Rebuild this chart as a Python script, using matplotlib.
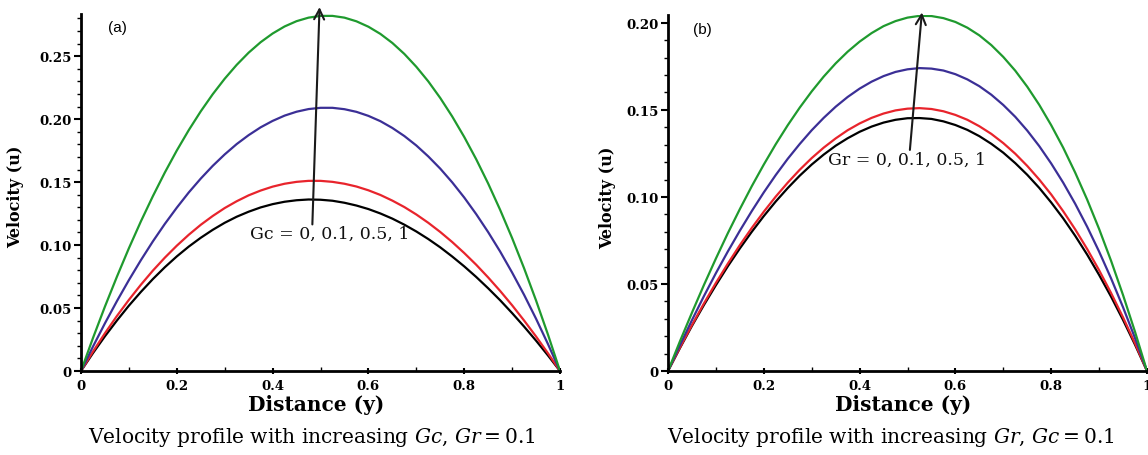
import matplotlib
matplotlib.use("Agg")
import matplotlib.pyplot as plt
from matplotlib.ticker import MultipleLocator

plt.rcParams['font.family'] = ['DejaVu Serif']
plt.rcParams['mathtext.fontset'] = 'dejavuserif'

# distance across the channel
y_pos = [0.0, 0.025, 0.05, 0.075, 0.1, 0.125, 0.15, 0.175, 0.2, 0.225, 0.25,
         0.275, 0.3, 0.325, 0.35, 0.375, 0.4, 0.425, 0.45, 0.475, 0.5,
         0.525, 0.55, 0.575, 0.6, 0.625, 0.65, 0.675, 0.7, 0.725, 0.75,
         0.775, 0.8, 0.825, 0.85, 0.875, 0.9, 0.925, 0.95, 0.975, 1.0]

# (a) increasing Gc, Gr = 0.1
a_gc0 = [0, .0142, .0276, .0401, .0519, .0628, .0730, .0824, .0910, .0988, .1058,
         .1121, .1177, .1225, .1265, .1299, .1325, .1344, .1356, .1362, .1360,
         .1352, .1336, .1314, .1286, .1251, .1210, .1162, .1108, .1048, .0982,
         .0909, .0831, .0747, .0657, .0562, .0460, .0353, .0241, .0123, 0]
a_gc01 = [0, .0154, .0300, .0437, .0565, .0685, .0797, .0900, .0995, .1082, .1161,
          .1231, .1294, .1348, .1395, .1433, .1464, .1487, .1502, .1510, .1510,
          .1502, .1487, .1465, .1435, .1398, .1353, .1302, .1243, .1177, .1104,
          .1024, .0937, .0844, .0743, .0636, .0522, .0401, .0274, .0140, 0]
a_gc05 = [0, .0194, .0379, .0555, .0722, .0880, .1029, .1168, .1297, .1418, .1528,
          .1629, .1720, .1802, .1873, .1935, .1986, .2028, .2059, .2080, .2090,
          .2090, .2079, .2058, .2026, .1984, .1930, .1866, .1791, .1704, .1607,
          .1498, .1378, .1246, .1103, .0949, .0782, .0605, .0415, .0213, 0]
a_gc1 = [0, .0262, .0512, .0749, .0975, .1188, .1388, .1576, .1751, .1913, .2062,
         .2198, .2321, .2431, .2528, .2611, .2680, .2736, .2778, .2806, .2820,
         .2820, .2806, .2777, .2734, .2677, .2605, .2518, .2416, .2300, .2168,
         .2021, .1859, .1682, .1489, .1280, .1056, .0816, .0560, .0288, 0]

# (b) increasing Gr, Gc = 0.1
b_gr0 = [0, .0132, .0259, .0379, .0493, .0602, .0704, .0800, .0890, .0974, .1051,
         .1122, .1186, .1243, .1294, .1337, .1374, .1404, .1427, .1443, .1452,
         .1453, .1448, .1434, .1413, .1385, .1349, .1305, .1254, .1194, .1127,
         .1052, .0968, .0877, .0777, .0669, .0552, .0427, .0293, .0151, 0]
b_gr01 = [0, .0135, .0264, .0388, .0506, .0617, .0723, .0822, .0915, .1002, .1082,
          .1156, .1223, .1283, .1336, .1383, .1422, .1454, .1479, .1497, .1507,
          .1510, .1505, .1492, .1471, .1443, .1406, .1362, .1309, .1248, .1178,
          .1100, .1014, .0918, .0814, .0701, .0579, .0448, .0308, .0159, 0]
b_gr05 = [0, .0149, .0292, .0430, .0562, .0687, .0806, .0919, .1026, .1126, .1219,
          .1304, .1383, .1454, .1518, .1574, .1622, .1662, .1694, .1718, .1733,
          .1740, .1737, .1726, .1705, .1675, .1636, .1587, .1528, .1460, .1381,
          .1292, .1192, .1082, .0961, .0829, .0686, .0532, .0366, .0189, 0]
b_gr1 = [0, .0171, .0335, .0494, .0646, .0792, .0930, .1062, .1186, .1303, .1412,
         .1513, .1606, .1691, .1767, .1834, .1892, .1941, .1981, .2010, .2030,
         .2040, .2039, .2027, .2005, .1972, .1928, .1872, .1804, .1725, .1633,
         .1529, .1412, .1283, .1140, .0985, .0816, .0633, .0436, .0225, 0]

x_ticks = [0, 0.2, 0.4, 0.6, 0.8, 1]
x_labels = ['0', '0.2', '0.4', '0.6', '0.8', '1']
a_yticks = [0, 0.05, 0.10, 0.15, 0.20, 0.25]
a_ylabels = ['0', '0.05', '0.10', '0.15', '0.20', '0.25']
b_yticks = [0, 0.05, 0.10, 0.15, 0.20]
b_ylabels = ['0', '0.05', '0.10', '0.15', '0.20']

colors = ['black', '#e8242c', '#3b2f96', '#1f9a2e']

W, H = 1148, 456
fig = plt.figure(figsize=(W / 100, H / 100), dpi=100)
ax_a = fig.add_axes([81 / W, 84 / H, 479 / W, 357 / H])
ax_b = fig.add_axes([668 / W, 84 / H, 479 / W, 356 / H])


def style_axes(ax, ytop, yticks, ylabels):
    ax.set_xlim(0, 1)
    ax.set_ylim(0, ytop)
    for s in ['top', 'right']:
        ax.spines[s].set_visible(False)
    for s in ['left', 'bottom']:
        ax.spines[s].set_linewidth(2)
    ax.set_xticks(x_ticks)
    ax.set_xticklabels(x_labels)
    ax.set_yticks(yticks)
    ax.set_yticklabels(ylabels)
    ax.xaxis.set_minor_locator(MultipleLocator(0.1))
    ax.yaxis.set_minor_locator(MultipleLocator(0.01))
    ax.tick_params(axis='y', which='major', direction='out', length=5, width=1.5,
                   labelsize=9.5, pad=2)
    ax.tick_params(axis='y', which='minor', direction='out', length=3, width=1)
    ax.tick_params(axis='x', which='major', direction='inout', length=5, width=1.5,
                   labelsize=9.5, pad=3)
    ax.tick_params(axis='x', which='minor', direction='in', length=3, width=1)
    for lab in ax.get_xticklabels() + ax.get_yticklabels():
        lab.set_fontweight('bold')
    ax.set_xlabel('Distance (y)', fontsize=14.5, fontweight='bold')
    ax.xaxis.set_label_coords(0.49, -0.065)
    ax.set_ylabel('Velocity (u)', fontsize=11.5, fontweight='bold')


style_axes(ax_a, 0.2835, a_yticks, a_ylabels)
style_axes(ax_b, 0.2045, b_yticks, b_ylabels)
ax_a.yaxis.set_label_coords(-0.118, 0.49)
ax_b.yaxis.set_label_coords(-0.108, 0.49)

for vals, c in zip([a_gc0, a_gc01, a_gc05, a_gc1], colors):
    ax_a.plot(y_pos, vals, color=c, lw=1.6)
for vals, c in zip([b_gr0, b_gr01, b_gr05, b_gr1], colors):
    ax_b.plot(y_pos, vals, color=c, lw=1.6)

arrow = dict(arrowstyle='->', color='#1a1a1a', lw=1.5, mutation_scale=18,
             shrinkA=0, shrinkB=0, clip_on=False)
ax_a.annotate('', xy=(0.498, 0.289), xytext=(0.483, 0.1164), arrowprops=arrow,
              annotation_clip=False)
ax_a.text(0.52, 0.109, 'Gc = 0, 0.1, 0.5, 1', fontsize=12.5, color='#111111',
          ha='center', va='center')
ax_b.annotate('', xy=(0.530, 0.206), xytext=(0.505, 0.127), arrowprops=arrow,
              annotation_clip=False)
ax_b.text(0.50, 0.1215, 'Gr = 0, 0.1, 0.5, 1', fontsize=12.5, color='#111111',
          ha='center', va='center')

ax_a.text(0.056, 0.964, '(a)', transform=ax_a.transAxes, fontsize=11,
          family='Liberation Sans', va='center', ha='left')
ax_b.text(0.052, 0.961, '(b)', transform=ax_b.transAxes, fontsize=11,
          family='Liberation Sans', va='center', ha='left')

fig.text(312 / W, 1 - 438 / H, r'Velocity profile with increasing $Gc$, $Gr = 0.1$',
         fontsize=14.5, ha='center', va='center')
fig.text(891 / W, 1 - 438 / H, r'Velocity profile with increasing $Gr$, $Gc = 0.1$',
         fontsize=14.5, ha='center', va='center')

fig.savefig('out.png', dpi=100)
